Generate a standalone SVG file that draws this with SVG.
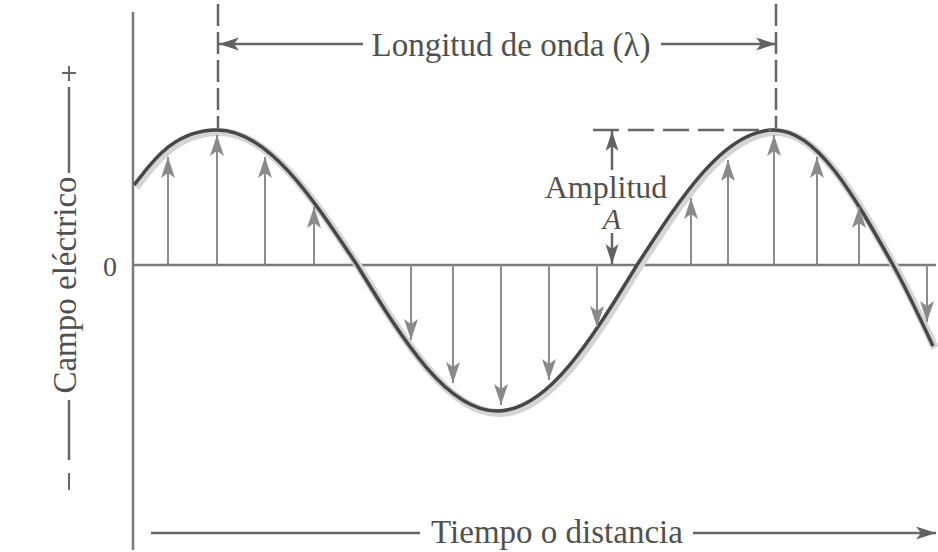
<svg xmlns="http://www.w3.org/2000/svg" width="938" height="552" viewBox="0 0 938 552">
<defs>
<style>
.lbl{font-family:"Liberation Serif","Times New Roman",serif;fill:#505050;}
.axis{stroke:#7a7a7a;stroke-width:2.5;fill:none;}
.field{stroke:#8c8c8c;stroke-width:2;fill:none;marker-end:url(#fh);}
.dim{stroke:#666;stroke-width:2.5;fill:none;}
.dash{stroke:#666;stroke-width:2.5;fill:none;}
</style>
<marker id="fh" markerUnits="userSpaceOnUse" markerWidth="22" markerHeight="16" viewBox="0 0 22 16" refX="21" refY="8" orient="auto">
<path d="M0,1 L21,8 L0,15 L5,8 z" fill="#8a8a8a"/>
</marker>
<marker id="dh" markerUnits="userSpaceOnUse" markerWidth="22" markerHeight="16" viewBox="0 0 22 16" refX="20" refY="8" orient="auto">
<path d="M0,1.5 L20,8 L0,14.5 L5,8 z" fill="#626262"/>
</marker>
</defs>
<rect width="938" height="552" fill="#ffffff"/>

<g id="axes">
<line class="axis" x1="133" y1="12" x2="133" y2="550"/>
<line class="axis" x1="133" y1="265" x2="936" y2="265"/>
</g>

<g id="wave">
<path d="M134,185 C150,165 172,130 217,130 C267,130 310,194 357,265 C404,342 447,411 497,411 C547,411 590,342 637,265 C683,194 725,130 774,130 C817,130 853,194 893,265 C907,290 920,318 933,346" fill="none" stroke="#d4d4d4" stroke-width="8" transform="translate(2,2)"/>
<path d="M134,185 C150,165 172,130 217,130 C267,130 310,194 357,265 C404,342 447,411 497,411 C547,411 590,342 637,265 C683,194 725,130 774,130 C817,130 853,194 893,265 C907,290 920,318 933,346" fill="none" stroke="#474747" stroke-width="3.5"/>
</g>

<g id="connectors">
<line class="field" x1="168" y1="265" x2="168" y2="157"/>
<line class="field" x1="217" y1="265" x2="217" y2="135"/>
<line class="field" x1="265" y1="265" x2="265" y2="157"/>
<line class="field" x1="314" y1="265" x2="314" y2="207"/>
<line class="field" x1="411" y1="265" x2="411" y2="340"/>
<line class="field" x1="453" y1="265" x2="453" y2="383"/>
<line class="field" x1="501" y1="265" x2="501" y2="405"/>
<line class="field" x1="549" y1="265" x2="549" y2="380"/>
<line class="field" x1="597" y1="265" x2="597" y2="327"/>
<line class="field" x1="691" y1="265" x2="691" y2="198"/>
<line class="field" x1="728" y1="265" x2="728" y2="160"/>
<line class="field" x1="774" y1="265" x2="774" y2="135"/>
<line class="field" x1="817" y1="265" x2="817" y2="157"/>
<line class="field" x1="859" y1="265" x2="859" y2="207"/>
<line class="field" x1="927" y1="265" x2="927" y2="322"/>
</g>

<g id="wavelength">
<line class="dash" x1="218" y1="4" x2="218" y2="128" stroke-dasharray="22 6"/>
<line class="dash" x1="776" y1="4" x2="776" y2="128" stroke-dasharray="22 6"/>
<line class="dim" x1="363" y1="44" x2="219" y2="44" marker-end="url(#dh)"/>
<line class="dim" x1="661" y1="44" x2="776" y2="44" marker-end="url(#dh)"/>
<text class="lbl" x="511" y="56" font-size="33" text-anchor="middle">Longitud de onda (λ)</text>
</g>

<g id="amplitude">
<line class="dash" x1="593" y1="130" x2="772" y2="130" stroke-dasharray="26 9"/>
<line class="dim" x1="612" y1="170" x2="612" y2="131" marker-end="url(#dh)"/>
<line class="dim" x1="612" y1="233" x2="612" y2="264" marker-end="url(#dh)"/>
<text class="lbl" x="606" y="198" font-size="32" text-anchor="middle">Amplitud</text>
<text class="lbl" x="612" y="229" font-size="30" font-style="italic" text-anchor="middle">A</text>
</g>

<g id="y-label">
<text class="lbl" x="110" y="276" font-size="28" text-anchor="middle">0</text>
<text class="lbl" transform="translate(76,285) rotate(-90)" font-size="33" text-anchor="middle">Campo eléctrico</text>
<line class="dim" x1="69" y1="87" x2="69" y2="173" stroke-width="2"/>
<line class="dim" x1="69" y1="400" x2="69" y2="460" stroke-width="2"/>
<line x1="69" y1="66" x2="69" y2="81" stroke="#666" stroke-width="2"/>
<line x1="62" y1="73" x2="76" y2="73" stroke="#666" stroke-width="2"/>
<line x1="69" y1="473" x2="69" y2="490" stroke="#666" stroke-width="2"/>
</g>

<g id="x-label">
<line class="dim" x1="151" y1="533" x2="420" y2="533" stroke-width="2"/>
<line class="dim" x1="693" y1="533" x2="936" y2="533" stroke-width="2" marker-end="url(#dh)"/>
<text class="lbl" x="557" y="543" font-size="33" text-anchor="middle">Tiempo o distancia</text>
</g>
</svg>
